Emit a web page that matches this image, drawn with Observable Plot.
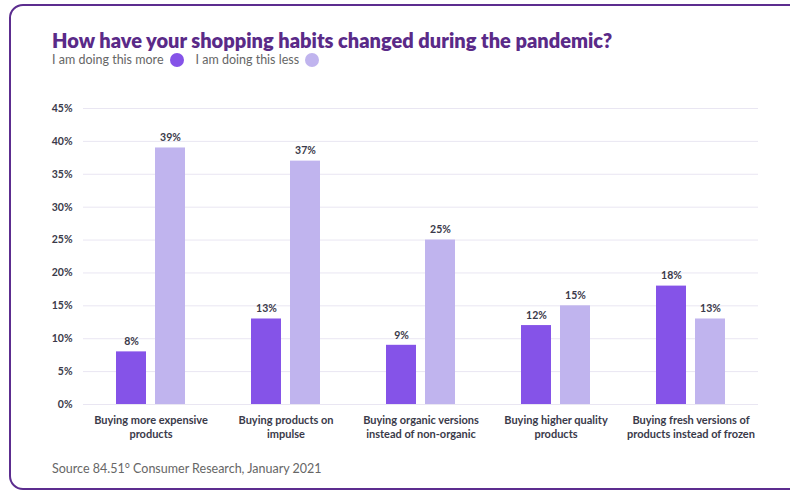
<!DOCTYPE html>
<html>
<head>
<meta charset="utf-8">
<script src="https://cdn.jsdelivr.net/npm/d3@7"></script>
<script src="https://cdn.jsdelivr.net/npm/@observablehq/plot@0.6"></script>
<style>
  html, body { margin: 0; padding: 0; background: #fff; width: 790px; height: 492px; overflow: hidden; font-family: Lato, "Noto Sans", sans-serif; }
  #frame { position: absolute; left: 9px; top: 4px; width: 820px; height: 482px; border: 2.5px solid #5c2d8f; border-radius: 14px; box-sizing: content-box; }
  #title { position: absolute; left: 52px; top: 28px; font-size: 20px; font-weight: 800; color: #5a2a88; white-space: nowrap; }
  #legend { position: absolute; left: 52px; top: 52px; font-size: 12.5px; color: #666; display: flex; align-items: center; white-space: nowrap; }
  #legend .dot { display: inline-block; width: 14px; height: 14px; border-radius: 50%; margin: 0 12px 0 6px; }
  #chart { position: absolute; left: 0; top: 70px; }
  #source { position: absolute; left: 52px; top: 461px; font-size: 12.5px; color: #666; white-space: nowrap; }
</style>
</head>
<body>
<div id="frame"></div>
<div id="title">How have your shopping habits changed during the pandemic?</div>
<div id="legend"></div>
<div id="chart"></div>
<div id="source">Source 84.51° Consumer Research, January 2021</div>
<script>
const categories = [
  "Buying more expensive products",
  "Buying products on impulse",
  "Buying organic versions instead of non-organic",
  "Buying higher quality products",
  "Buying fresh versions of products instead of frozen"
];
const categoryLabels = [
  "Buying more expensive\nproducts",
  "Buying products on\nimpulse",
  "Buying organic versions\ninstead of non-organic",
  "Buying higher quality\nproducts",
  "Buying fresh versions of\nproducts instead of frozen"
];
const seriesNames = ["I am doing this more", "I am doing this less"];
const moreValues = [8, 13, 9, 12, 18];
const lessValues = [39, 37, 25, 15, 13];
const seriesColors = ["#8553e8", "#c0b4ee"];
const yTicks = [0, 5, 10, 15, 20, 25, 30, 35, 40, 45];

const data = [];
categories.forEach((c, i) => {
  data.push({category: c, series: seriesNames[0], value: moreValues[i]});
  data.push({category: c, series: seriesNames[1], value: lessValues[i]});
});
const labelOf = new Map(categories.map((c, i) => [c, categoryLabels[i]]));

const legend = document.getElementById("legend");
seriesNames.forEach((s, i) => {
  const t = document.createElement("span"); t.textContent = s; legend.appendChild(t);
  const d = document.createElement("span"); d.className = "dot"; d.style.background = seriesColors[i]; legend.appendChild(d);
});

const plot = Plot.plot({
  width: 790,
  height: 380,
  marginLeft: 81,
  marginRight: 30,
  marginTop: 38,
  marginBottom: 46,
  style: {fontFamily: "Lato, 'Noto Sans', sans-serif", color: "#3a3a4a"},
  fx: {domain: categories, padding: 0, label: null},
  x: {domain: seriesNames, paddingInner: 0.24, paddingOuter: 0.85, axis: null},
  y: {domain: [0, 45], label: null},
  color: {domain: seriesNames, range: seriesColors},
  marks: [
    Plot.gridY(yTicks, {stroke: "#e9e6f2", strokeOpacity: 1}),
    Plot.axisY(yTicks, {tickSize: 0, tickPadding: 11, tickFormat: d => d + "%", fontWeight: 700, fontSize: 10.5, fill: "#3a3a4a", label: null}),
    Plot.axisFx({anchor: "bottom", tickSize: 0, tickPadding: 10, tickFormat: d => labelOf.get(d), fontWeight: 700, fontSize: 11, lineHeight: 1.27, fill: "#3a3a4a", label: null}),
    Plot.barY(data, {fx: "category", x: "series", y: "value", fill: "series"}),
    Plot.text(data, {fx: "category", x: "series", y: "value", text: d => d.value + "%", dy: -10, fontWeight: 700, fontSize: 10.5, fill: "#3a3a4a"})
  ]
});
document.getElementById("chart").appendChild(plot);
</script>
</body>
</html>
